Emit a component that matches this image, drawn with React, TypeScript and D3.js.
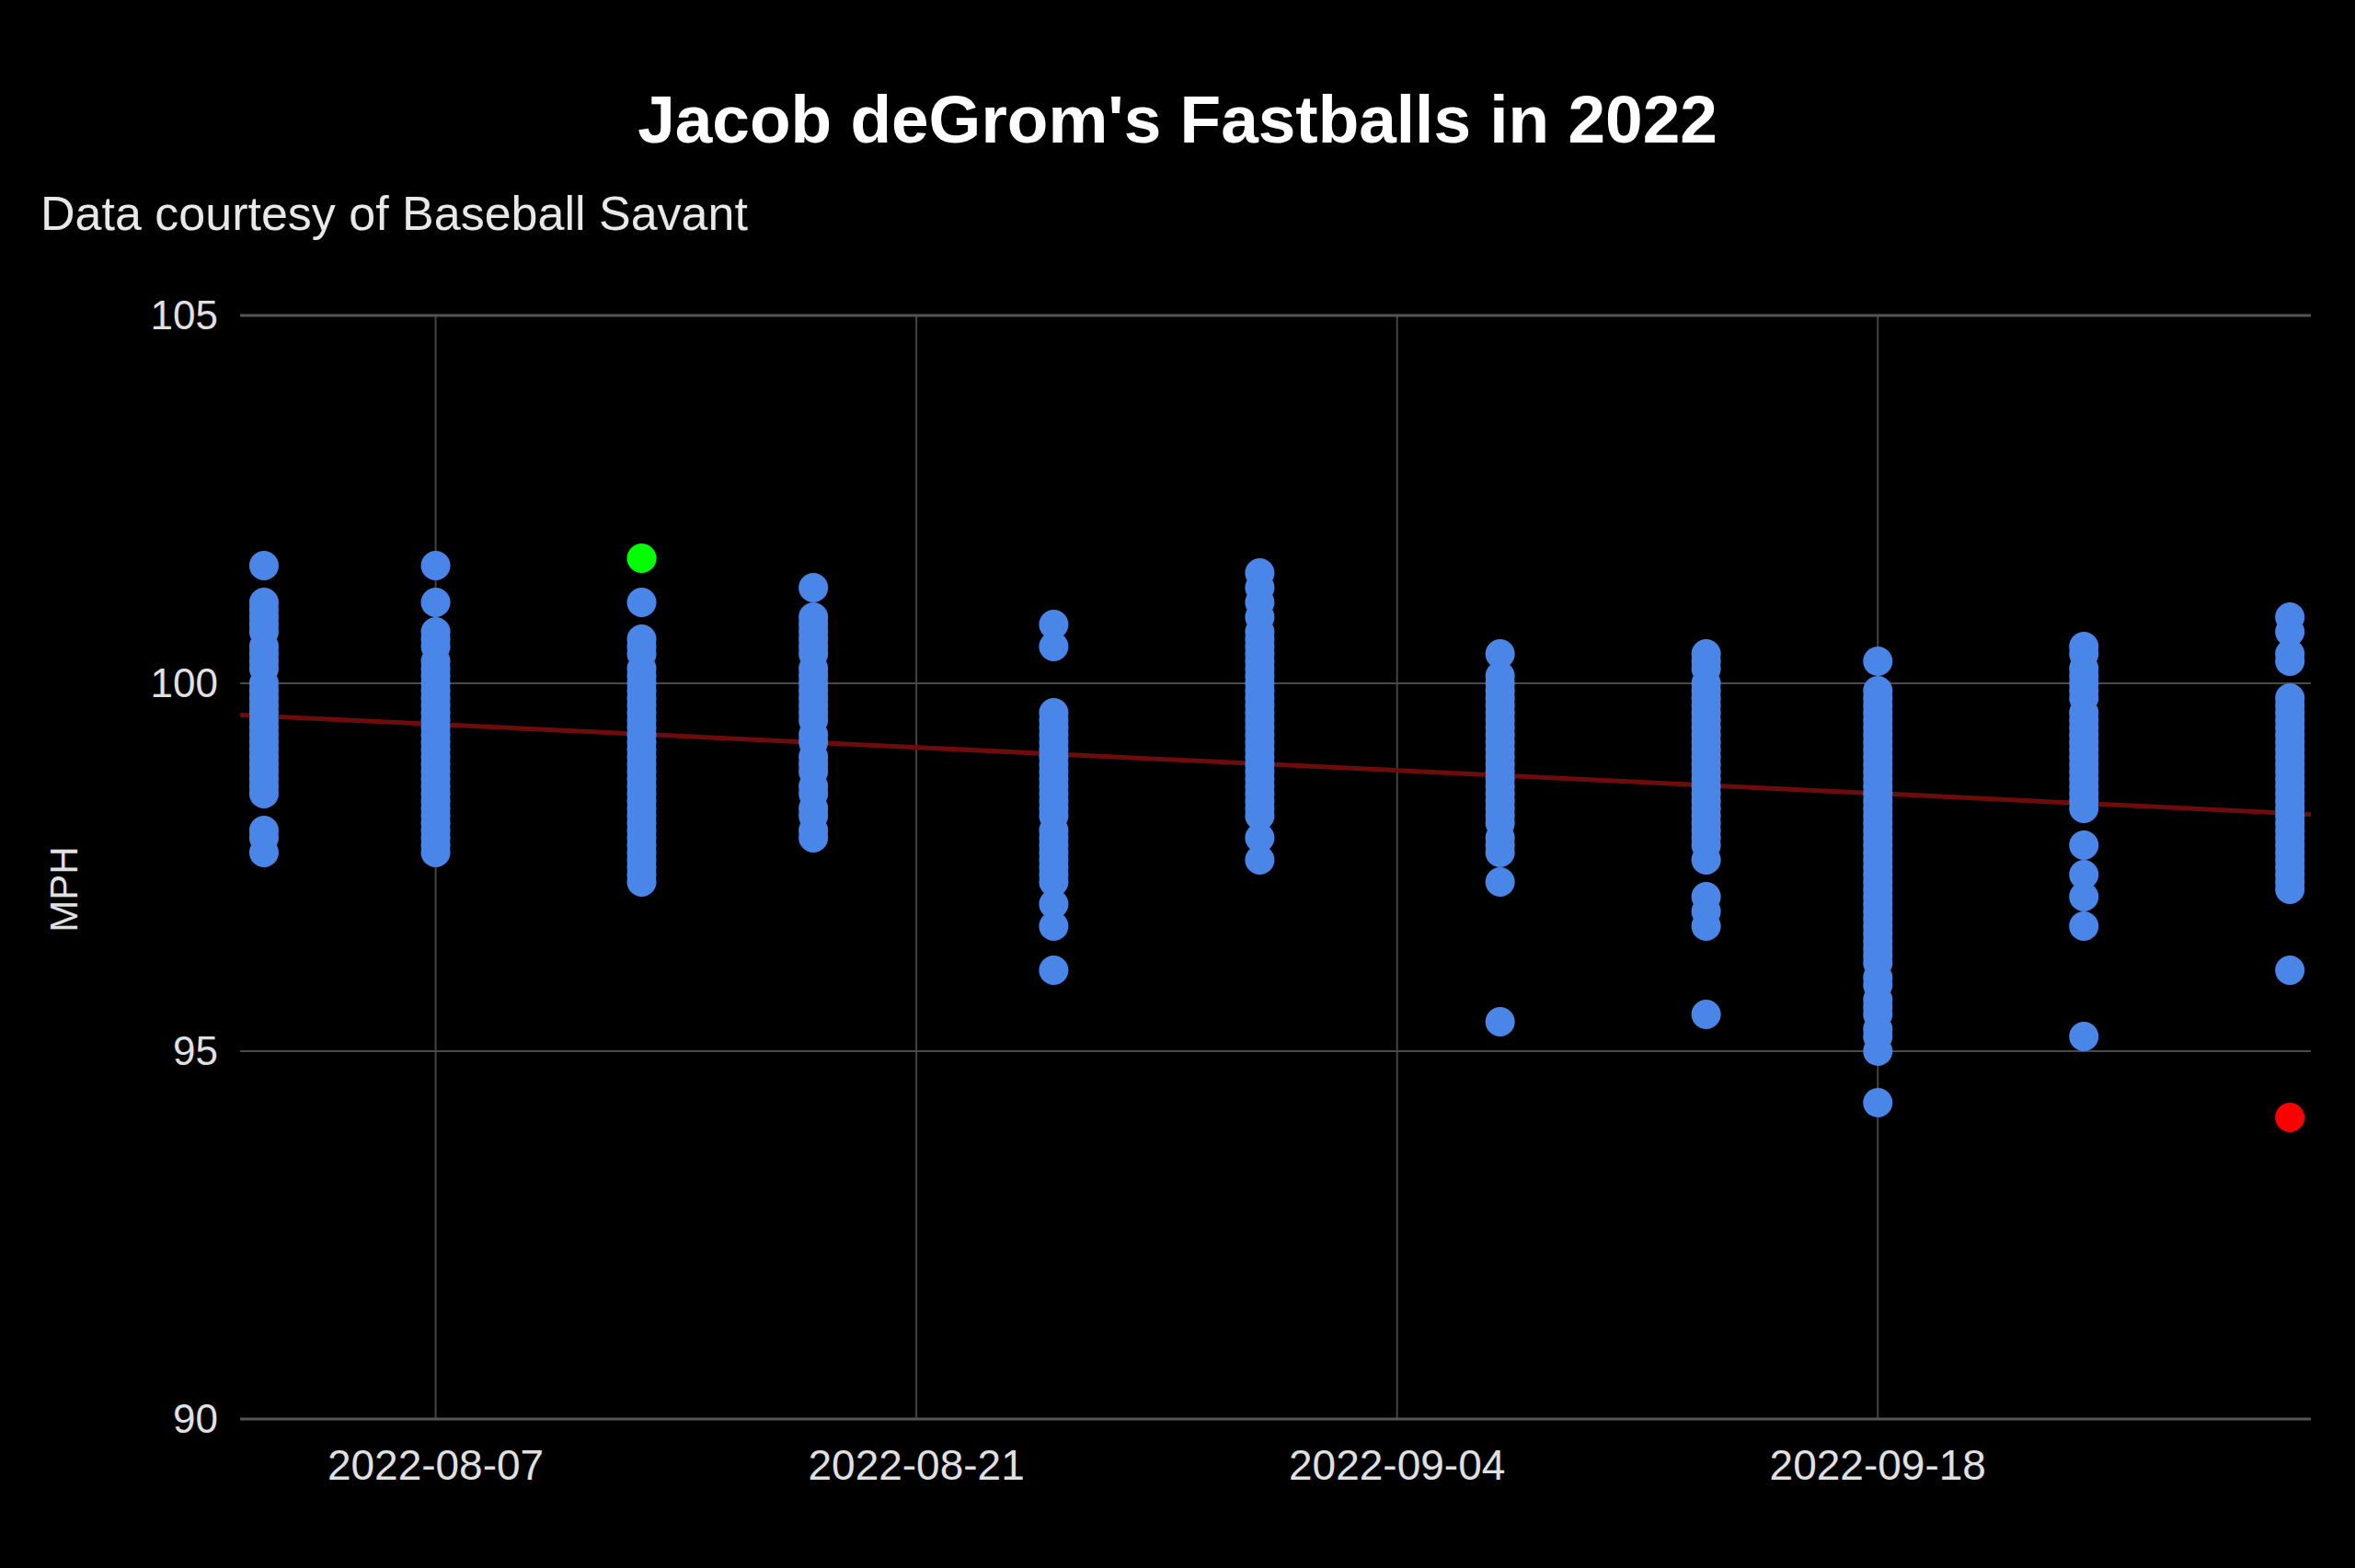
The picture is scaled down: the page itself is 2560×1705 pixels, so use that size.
import React from "react";
import * as d3 from "d3";

// game dates (one column of pitches per start)
const gameDates = [
  "2022-08-02",
  "2022-08-07",
  "2022-08-13",
  "2022-08-18",
  "2022-08-25",
  "2022-08-31",
  "2022-09-07",
  "2022-09-13",
  "2022-09-18",
  "2022-09-24",
  "2022-09-30",
];

// fastball velocities (mph) per start
const game1 = [101.6, 101.1, 101.0, 100.9, 100.8, 100.7, 100.5, 100.4, 100.3, 100.2, 100.0, 99.9, 99.8, 99.7, 99.6, 99.5, 99.4, 99.3, 99.2, 99.1, 99.0, 98.9, 98.8, 98.7, 98.6, 98.5, 98.0, 97.9, 97.7];
const game2 = [101.6, 101.1, 100.7, 100.6, 100.5, 100.3, 100.2, 100.1, 100.0, 99.9, 99.8, 99.7, 99.6, 99.5, 99.4, 99.3, 99.2, 99.1, 99.0, 98.9, 98.8, 98.7, 98.6, 98.5, 98.4, 98.3, 98.2, 98.1, 98.0, 97.9, 97.8, 97.7];
const game3 = [101.1, 100.6, 100.5, 100.4, 100.2, 100.1, 100.0, 99.9, 99.8, 99.7, 99.6, 99.5, 99.4, 99.3, 99.2, 99.1, 99.0, 98.9, 98.8, 98.7, 98.6, 98.5, 98.4, 98.3, 98.2, 98.1, 98.0, 97.9, 97.8, 97.7, 97.6, 97.5, 97.4, 97.3];
const game4 = [101.3, 100.9, 100.8, 100.7, 100.6, 100.5, 100.4, 100.2, 100.1, 100.0, 99.9, 99.8, 99.7, 99.6, 99.5, 99.3, 99.2, 99.0, 98.9, 98.8, 98.6, 98.5, 98.3, 98.2, 98.0, 97.9];
const game5 = [100.8, 100.5, 99.6, 99.5, 99.4, 99.3, 99.2, 99.1, 99.0, 98.9, 98.8, 98.7, 98.6, 98.5, 98.4, 98.3, 98.2, 98.0, 97.9, 97.8, 97.7, 97.6, 97.5, 97.4, 97.3, 97.0, 96.7, 96.1];
const game6 = [101.5, 101.3, 101.1, 100.9, 100.7, 100.6, 100.5, 100.4, 100.3, 100.2, 100.1, 100.0, 99.9, 99.8, 99.7, 99.6, 99.5, 99.4, 99.3, 99.2, 99.1, 99.0, 98.9, 98.8, 98.7, 98.6, 98.5, 98.4, 98.3, 98.2, 97.9, 97.6];
const game7 = [100.4, 100.1, 100.0, 99.9, 99.8, 99.7, 99.6, 99.5, 99.4, 99.3, 99.2, 99.1, 99.0, 98.9, 98.8, 98.7, 98.6, 98.5, 98.4, 98.3, 98.2, 98.1, 97.9, 97.8, 97.7, 97.3, 95.4];
const game8 = [100.4, 100.3, 100.2, 100.0, 99.9, 99.8, 99.7, 99.6, 99.5, 99.4, 99.3, 99.2, 99.1, 99.0, 98.9, 98.8, 98.7, 98.6, 98.5, 98.4, 98.3, 98.2, 98.1, 98.0, 97.9, 97.8, 97.6, 97.1, 96.9, 96.7, 95.5];
const game9 = [100.3, 99.9, 99.8, 99.7, 99.6, 99.5, 99.4, 99.3, 99.2, 99.1, 99.0, 98.9, 98.8, 98.7, 98.6, 98.5, 98.4, 98.3, 98.2, 98.1, 98.0, 97.9, 97.8, 97.7, 97.6, 97.5, 97.4, 97.3, 97.2, 97.1, 97.0, 96.9, 96.8, 96.7, 96.6, 96.5, 96.4, 96.3, 96.2, 96.0, 95.9, 95.7, 95.6, 95.5, 95.3, 95.2, 95.0, 94.3];
const game10 = [100.5, 100.4, 100.2, 100.1, 100.0, 99.9, 99.8, 99.6, 99.5, 99.4, 99.3, 99.2, 99.1, 99.0, 98.9, 98.8, 98.7, 98.6, 98.5, 98.4, 98.3, 97.8, 97.4, 97.1, 96.7, 95.2];
const game11 = [100.9, 100.7, 100.4, 100.3, 99.8, 99.7, 99.6, 99.5, 99.4, 99.3, 99.2, 99.1, 99.0, 98.9, 98.8, 98.7, 98.6, 98.5, 98.4, 98.3, 98.2, 98.1, 98.0, 97.9, 97.8, 97.7, 97.6, 97.5, 97.4, 97.3, 97.2, 96.1];

const games = [game1, game2, game3, game4, game5, game6, game7, game8, game9, game10, game11];

// fastest and slowest pitch, highlighted
const fastest = { date: "2022-08-13", mph: 101.7 };
const slowest = { date: "2022-09-30", mph: 94.1 };

// trendline as drawn (ends of the chart area)
const trendDates = ["2022-08-01T07:20", "2022-09-30T14:40"];
const trendValues = [99.57, 98.22];

const xTicks = ["2022-08-07", "2022-08-21", "2022-09-04", "2022-09-18"];
const yTicks = [90, 95, 100, 105];

const W = 2560;
const H = 1705;
const margin = { top: 343, right: 48, bottom: 162, left: 261 };
const font = "'Liberation Sans', Arial, sans-serif";

const parse = (s: string) => new Date(s + (s.length === 10 ? "T00:00" : ""));

const App = () => {
  const x = d3
    .scaleTime()
    .domain([parse(trendDates[0]), parse(trendDates[1])])
    .range([margin.left, W - margin.right]);
  const y = d3
    .scaleLinear()
    .domain([90, 105])
    .range([H - margin.bottom, margin.top]);

  const trend = d3
    .line<number>()
    .x((_, i) => x(parse(trendDates[i])))
    .y((d) => y(d));

  const fmt = d3.timeFormat("%Y-%m-%d");

  return (
    <svg
      width={W}
      height={H}
      style={{ position: "absolute", left: 0, top: 0, background: "#000" }}
    >
      <rect width={W} height={H} fill="#000" />
      <text
        x={W / 2}
        y={155}
        textAnchor="middle"
        fill="#fff"
        fontFamily={font}
        fontWeight="bold"
        fontSize={73}
      >
        Jacob deGrom's Fastballs in 2022
      </text>
      <text x={44} y={250} fill="#e8e8e8" fontFamily={font} fontSize={52}>
        Data courtesy of Baseball Savant
      </text>

      {/* vertical grid */}
      {xTicks.map((t) => (
        <line
          key={t}
          x1={x(parse(t))}
          x2={x(parse(t))}
          y1={y(105)}
          y2={y(90)}
          stroke="#444"
          strokeWidth={2}
        />
      ))}
      {/* horizontal grid */}
      {yTicks.map((t) => (
        <line
          key={t}
          x1={margin.left}
          x2={W - margin.right}
          y1={y(t)}
          y2={y(t)}
          stroke={t === 90 || t === 105 ? "#555" : "#4a4a4a"}
          strokeWidth={t === 90 || t === 105 ? 3 : 2}
        />
      ))}

      {yTicks.map((t) => (
        <text
          key={t}
          x={237}
          y={y(t)}
          dy="0.35em"
          textAnchor="end"
          fill="#e0e0e0"
          fontFamily={font}
          fontSize={44}
        >
          {t}
        </text>
      ))}
      {xTicks.map((t) => (
        <text
          key={t}
          x={x(parse(t))}
          y={1609}
          textAnchor="middle"
          fill="#e0e0e0"
          fontFamily={font}
          fontSize={46}
        >
          {fmt(parse(t))}
        </text>
      ))}
      <text
        transform={`translate(84,${967}) rotate(-90)`}
        textAnchor="middle"
        fill="#e0e0e0"
        fontFamily={font}
        fontSize={42}
      >
        MPH
      </text>

      <path
        d={trend(trendValues) || ""}
        fill="none"
        stroke="#6e0c0c"
        strokeWidth={5}
      />

      {games.map((vals, gi) =>
        vals.map((v, i) => (
          <circle
            key={gi + "-" + i}
            cx={x(parse(gameDates[gi]))}
            cy={y(v)}
            r={16}
            fill="#4a86e8"
          />
        ))
      )}
      <circle
        cx={x(parse(fastest.date))}
        cy={y(fastest.mph)}
        r={16}
        fill="#00ff00"
      />
      <circle
        cx={x(parse(slowest.date))}
        cy={y(slowest.mph)}
        r={16}
        fill="#ff0000"
      />
    </svg>
  );
};

export default App;
